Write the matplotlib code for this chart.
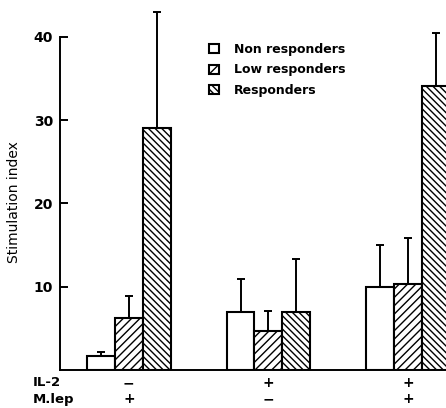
"""
Stimulation index by IL-2 / M.lep condition
"""
import matplotlib.pyplot as plt
import numpy as np

# data
groups = ["IL-2 - / M.lep +", "IL-2 + / M.lep -", "IL-2 + / M.lep +"]
il2_signs = ["\u2212", "+", "+"]
mlep_signs = ["+", "\u2212", "+"]
series = ["Non responders", "Low responders", "Responders"]
non_resp = [1.7, 7.0, 10.0]
non_resp_sd = [0.5, 3.9, 5.0]
low_resp = [6.2, 4.7, 10.3]
low_resp_sd = [2.7, 2.4, 5.5]
resp = [29.1, 7.0, 34.1]
resp_sd = [13.9, 6.3, 6.4]
yticks = [10, 20, 30, 40]


def show_bar_image():
    plt.rcParams["hatch.linewidth"] = 1.0
    fig = plt.figure(figsize=(4.46, 4.08), dpi=100)
    ax = fig.add_axes([60 / 446, 38 / 408, 386 / 446, 333 / 408])

    centers = np.array([0, 5, 10])
    values = [non_resp, low_resp, resp]
    sds = [non_resp_sd, low_resp_sd, resp_sd]
    hatches = ["", "////", "\\\\\\\\\\"]

    for i in range(3):
        x = centers + (i - 1)
        ax.bar(x, values[i], width=1, color="white", edgecolor="black",
               linewidth=1.5, hatch=hatches[i], label=series[i], zorder=2)
        ax.errorbar(x, values[i], yerr=[np.zeros(3), sds[i]], fmt="none",
                    ecolor="black", elinewidth=1.4, capsize=3, capthick=1.4,
                    clip_on=False, zorder=1)

    ax.set_xlim(-2.464, 11.357)
    ax.set_ylim(0, 40)
    ax.spines["top"].set_visible(False)
    ax.spines["right"].set_visible(False)
    ax.spines["left"].set_linewidth(1.4)
    ax.spines["bottom"].set_linewidth(1.4)
    ax.set_xticks([])
    ax.set_yticks(yticks)
    ax.tick_params(axis="y", direction="in", length=6, width=1.4,
                   labelsize=10, pad=5)
    for lbl in ax.get_yticklabels():
        lbl.set_fontweight("bold")
    ax.set_ylabel("Stimulation index", fontsize=10)
    ax.yaxis.set_label_coords(-0.101, 0.503)

    # condition rows under the axis
    fig.text(33 / 446, 1 - 383 / 408, "IL-2", fontsize=9.5,
             fontweight="bold", va="center")
    fig.text(33 / 446, 1 - 399 / 408, "M.lep", fontsize=9.5,
             fontweight="bold", va="center")
    for c, a, b in zip(centers, il2_signs, mlep_signs):
        ax.text(c, -13 / 333 * 40, a, ha="center", va="center",
                fontsize=10, fontweight="bold", clip_on=False)
        ax.text(c, -29 / 333 * 40, b, ha="center", va="center",
                fontsize=10, fontweight="bold", clip_on=False)

    ax.legend(loc="upper left", bbox_to_anchor=(203 / 446, 1 - 37 / 408),
              bbox_transform=fig.transFigure, frameon=False, borderpad=0,
              prop={"size": 9, "weight": "bold"}, handlelength=0.75,
              handleheight=0.75, handletextpad=1.2, labelspacing=0.58)

    fig.savefig("out.png", dpi=100)


if __name__ == '__main__':
    show_bar_image()
